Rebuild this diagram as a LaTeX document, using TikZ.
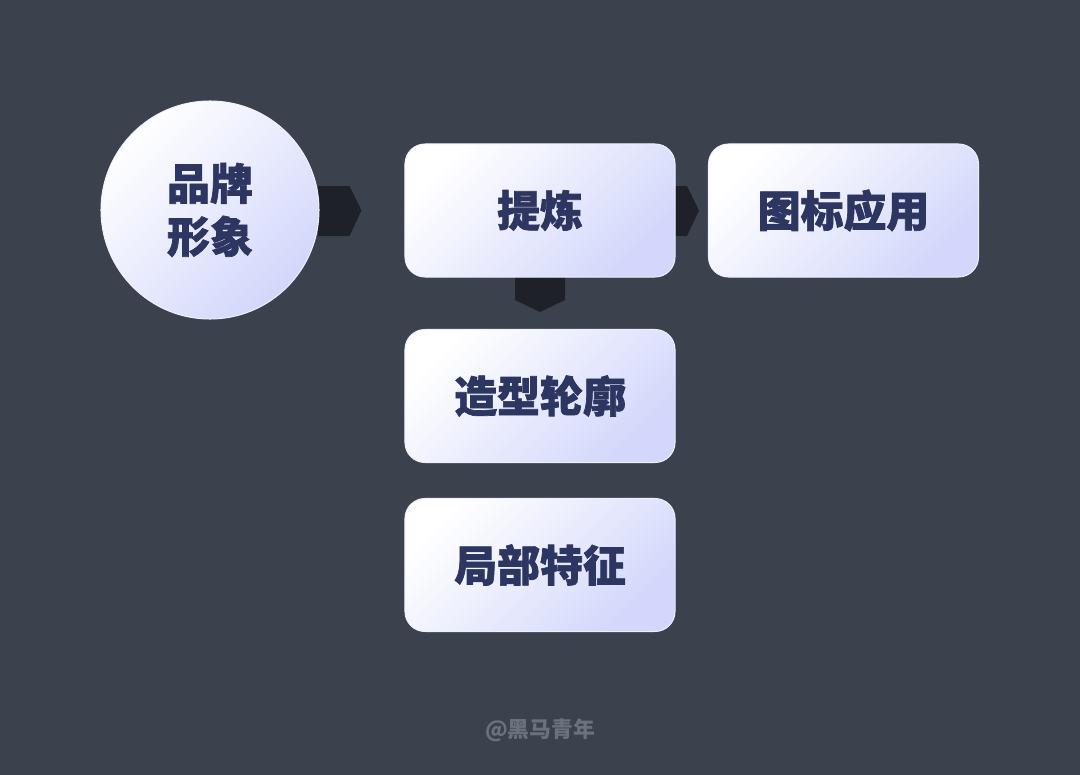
\documentclass[tikz,border=0pt]{standalone}
\usepackage{fontspec}
\newfontfamily\cjk{Noto Sans CJK SC}[BoldFeatures={FakeBold=1.6}]
\newfontfamily\cjkplain{Noto Sans CJK SC}
\usetikzlibrary{calc,backgrounds}
\definecolor{bgc}{HTML}{3C424D}
\definecolor{lav}{HTML}{D2D7FB}
\definecolor{txt}{HTML}{2D3561}
\definecolor{arr}{HTML}{1E2127}
\definecolor{wm}{HTML}{6B717D}
\definecolor{rim}{HTML}{EEF0FF}
\tikzset{
  card/.style={rectangle, rounded corners=0.5cm, minimum width=6.75cm, minimum height=3.325cm,
    left color=white, right color=lav, shading angle=45, draw=rim, line width=0.7pt,
    text=txt, font=\cjk\bfseries\fontsize{30.5}{38}\selectfont, inner sep=0pt},
  roundcard/.style={circle, minimum size=5.45cm, left color=white, right color=lav, shading angle=45,
    draw=rim, line width=0.7pt, text=txt, align=center,
    font=\cjk\bfseries\fontsize{30.5}{37.7}\selectfont, inner sep=0pt},
  chevron/.style={fill=arr, draw=none},
  wmark/.style={text=wm, font=\cjkplain\bfseries\fontsize{15.5}{18}\selectfont}
}
\begin{document}
\begin{tikzpicture}[x=0.025cm,y=-0.025cm]
\useasboundingbox (0,0) rectangle (1080,775);
\node[roundcard] (brand) at (210,210) {\raisebox{-2pt}{\parbox{3cm}{\centering 品牌\\形象}}};
\node[card] (refine) at (540,210.5) {提炼};
\node[card] (icon) at (843.5,210.5) {图标应用};
\node[card] (shape) at (540,396) {造型轮廓};
\node[card] (part) at (540,565) {局部特征};
\node[wmark] (credit) at (540,730) {@黑马青年};
\begin{scope}[on background layer]
  \fill[bgc] (0,0) rectangle (1080,775);
  % brand -> refine
  \fill[chevron] ($(brand.center)+(108,-24)$) -- ($(refine.west)+(-55,-24.5)$)
    -- ($(refine.west)+(-43,0)$) -- ($(refine.west)+(-55,25.5)$) -- ($(brand.center)+(108,26)$) -- cycle;
  % refine -> icon
  \fill[chevron] ($(refine.east)+(-2,-24.5)$) -- ($(icon.west)+(-21,-24.5)$)
    -- ($(icon.west)+(-9,0)$) -- ($(icon.west)+(-21,25.5)$) -- ($(refine.east)+(-2,25.5)$) -- cycle;
  % refine -> shape
  \fill[chevron] ($(refine.south)+(-25,-2)$) -- ($(refine.south)+(25,-2)$)
    -- ($(shape.north)+(25,-29)$) -- ($(shape.north)+(0,-17)$) -- ($(shape.north)+(-25,-29)$) -- cycle;
\end{scope}
\end{tikzpicture}
\end{document}
